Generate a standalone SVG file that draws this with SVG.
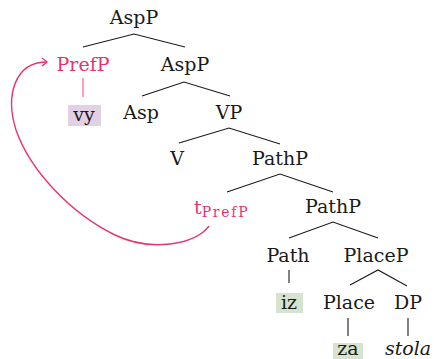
<svg xmlns="http://www.w3.org/2000/svg" width="434" height="359" viewBox="0 0 434 359">
<style>
text{font-family:"DejaVu Serif","Liberation Serif",serif;font-size:19px;fill:#1a1a1a;text-anchor:middle}
.pk{fill:#e8336f}
.sub{font-size:14px}
.it{font-style:italic}
.e{stroke:#1a1a1a;stroke-width:1.1;fill:none}
.ep{stroke:#ee5a88;stroke-width:1.1;fill:none}
.mv{stroke:#e8336f;stroke-width:1.4;fill:none}
</style>
<defs>
<marker id="ah" viewBox="-6 -5 8 10" markerWidth="8" markerHeight="10" refX="0" refY="0" orient="auto" markerUnits="userSpaceOnUse">
<path d="M -5 -4 Q -1 -1 0 0 Q -1 1 -5 4" fill="none" stroke="#e8336f" stroke-width="1.3"/>
</marker>
</defs>
<rect width="434" height="359" fill="#fff"/>
<g id="connectors">
<path class="e" d="M83 47 L134 34 L185 47"/>
<path class="ep" d="M83 78 L83 97"/>
<path class="e" d="M142 96 L184 82 L230 96"/>
<path class="e" d="M179 143 L229 128 L280 144"/>
<path class="e" d="M227 192 L280 174 L333 192"/>
<path class="e" d="M289 238 L333 222 L378 238"/>
<path class="e" d="M289 270 L289 283"/>
<path class="e" d="M350 285 L378 270 L407 286"/>
<path class="e" d="M348 318 L348 336"/>
<path class="e" d="M408 318 L408 336"/>
<path class="mv" marker-end="url(#ah)" d="M209 226 C195 245 150 252 115 235 C70 213 30 170 16 130 C5 95 15 62 47 62"/>
</g>
<g id="n-asp-top"><text x="134" y="24">AspP</text></g>
<g id="n-prefp"><text class="pk" x="83" y="71">PrefP</text></g>
<g id="n-vy"><rect x="68" y="105" width="33" height="21" fill="#e2d0e5"/><text x="84" y="121">vy</text></g>
<g id="n-asp2"><text x="185" y="71">AspP</text></g>
<g id="n-asp"><text x="141" y="119">Asp</text></g>
<g id="n-vp"><text x="229" y="119">VP</text></g>
<g id="n-v"><text x="177" y="165">V</text></g>
<g id="n-pathp1"><text x="280" y="165">PathP</text></g>
<g id="n-trace"><text class="pk" x="194" y="214" style="text-anchor:start"><tspan>t</tspan><tspan class="sub" dy="3" textLength="46" lengthAdjust="spacing">PrefP</tspan></text></g>
<g id="n-pathp2"><text x="333" y="213">PathP</text></g>
<g id="n-path"><text x="288" y="262">Path</text></g>
<g id="n-placep"><text x="376" y="262">PlaceP</text></g>
<g id="n-iz"><rect x="276" y="293" width="27" height="20" fill="#d5e3cf"/><text x="289" y="309">iz</text></g>
<g id="n-place"><text x="349" y="309">Place</text></g>
<g id="n-dp"><text x="408" y="309">DP</text></g>
<g id="n-za"><rect x="333" y="343" width="30" height="16" fill="#d5e3cf"/><text x="348" y="355">za</text></g>
<g id="n-stola"><text class="it" x="408" y="355">stola</text></g>
</svg>
